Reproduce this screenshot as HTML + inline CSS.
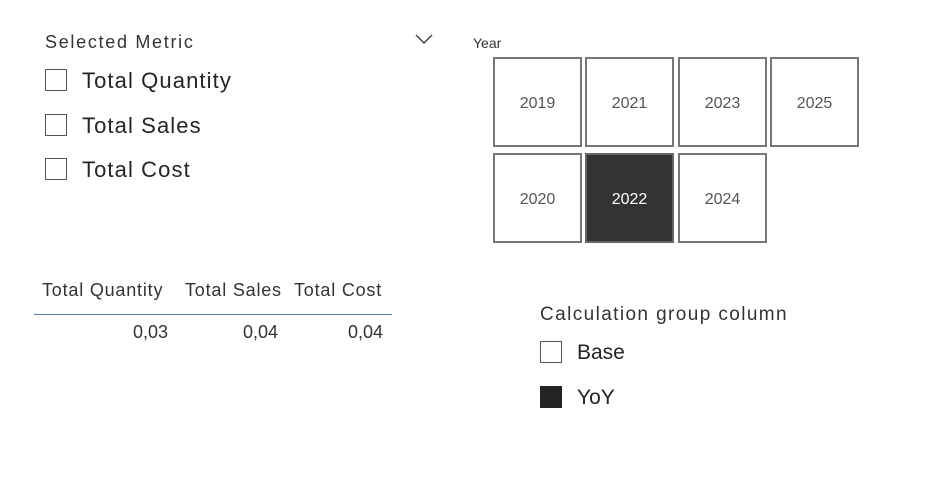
<!DOCTYPE html>
<html><head><meta charset="utf-8"><style>
body{margin:0;width:934px;height:479px;background:#fff;position:relative;overflow:hidden;font-family:"Liberation Sans","DejaVu Sans",sans-serif;color:#252423}
.a{position:absolute;white-space:nowrap}
.cb{position:absolute;width:20px;height:20px;border:1.5px solid #555;background:#fff}
.t{position:absolute;width:85px;height:86px;border:2px solid #777;background:#fff;color:#555;font-size:16px;display:flex;align-items:center;justify-content:center;padding-top:3px;box-sizing:content-box;height:83px}
</style></head><body>
<div class="a" style="left:45px;top:32px;font-size:18px;color:#333;letter-spacing:1.7px">Selected Metric</div>
<svg class="a" style="left:414px;top:33px" width="20" height="12"><polyline points="2,2 10,10 18,2" fill="none" stroke="#444" stroke-width="1.5"/></svg>
<div class="cb" style="left:45px;top:69px"></div><div class="a" style="left:82px;top:68px;font-size:22px;letter-spacing:1.1px">Total Quantity</div>
<div class="cb" style="left:45px;top:114px"></div><div class="a" style="left:82px;top:113px;font-size:22px;letter-spacing:1.1px">Total Sales</div>
<div class="cb" style="left:45px;top:158px"></div><div class="a" style="left:82px;top:157px;font-size:22px;letter-spacing:1.1px">Total Cost</div>

<div class="a" style="left:473px;top:35px;font-size:14px;color:#333">Year</div>
<div class="t" style="left:493px;top:57px">2019</div>
<div class="t" style="left:585px;top:57px">2021</div>
<div class="t" style="left:678px;top:57px">2023</div>
<div class="t" style="left:770px;top:57px">2025</div>
<div class="t" style="left:493px;top:153px">2020</div>
<div class="t" style="left:585px;top:153px;background:#333;color:#fff;border-color:#666">2022</div>
<div class="t" style="left:678px;top:153px">2024</div>

<div class="a" style="left:42px;top:280px;font-size:18px;color:#333;letter-spacing:0.8px">Total Quantity</div>
<div class="a" style="left:185px;top:280px;font-size:18px;color:#333;letter-spacing:0.8px">Total Sales</div>
<div class="a" style="left:294px;top:280px;font-size:18px;color:#333;letter-spacing:0.8px">Total Cost</div>
<div class="a" style="left:34px;top:314px;width:358px;height:1px;background:#5a7fa8"></div>
<div class="a" style="left:60px;width:108px;text-align:right;top:322px;font-size:18px;color:#333">0,03</div>
<div class="a" style="left:170px;width:108px;text-align:right;top:322px;font-size:18px;color:#333">0,04</div>
<div class="a" style="left:275px;width:108px;text-align:right;top:322px;font-size:18px;color:#333">0,04</div>

<div class="a" style="left:540px;top:304px;font-size:19px;color:#333;letter-spacing:1.4px">Calculation group column</div>
<div class="cb" style="left:540px;top:341px"></div><div class="a" style="left:577px;top:341px;font-size:21px">Base</div>
<div class="cb" style="left:540px;top:386px;background:#252423;border-color:#252423"></div><div class="a" style="left:577px;top:386px;font-size:21px">YoY</div>
</body></html>
